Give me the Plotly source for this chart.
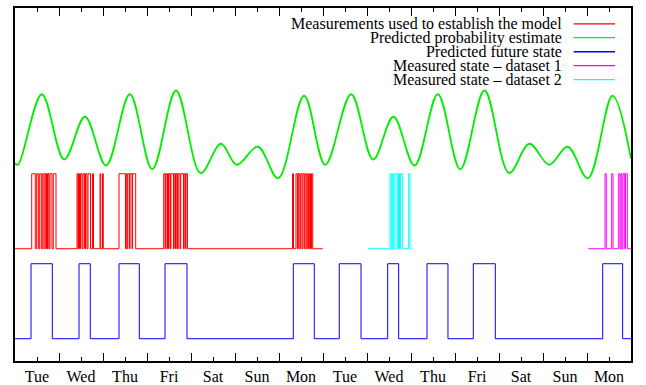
import plotly.graph_objects as go

# ---------------- data ----------------
day_labels = ["Tue", "Wed", "Thu", "Fri", "Sat", "Sun", "Mon",
              "Tue", "Wed", "Thu", "Fri", "Sat", "Sun", "Mon"]

# predicted probability estimate (extrema), x in days from Tue 00:00
prob_x = [0.0, 0.07, 0.61, 1.12, 1.59, 2.07, 2.61, 3.12, 3.66, 4.22, 4.68, 5.04, 5.52, 5.98,
          6.57, 7.05, 7.64, 8.14, 8.60, 9.08, 9.61, 10.12, 10.67, 11.23, 11.69, 12.14, 12.56,
          13.02, 13.58, 14.0]
prob_y = [2.34, 2.32, 3.26, 2.39, 2.96, 2.31, 3.26, 2.26, 3.31, 2.21, 2.60, 2.32, 2.56, 2.14,
          3.24, 2.32, 3.26, 2.39, 2.96, 2.31, 3.26, 2.26, 3.31, 2.21, 2.60, 2.32, 2.56,
          2.14, 3.24, 2.40]

# predicted future state (on intervals)
pred_span = [0.0, 14.0]
pred_on = [(0.364, 0.848), (1.455, 1.711), (2.364, 2.825), (3.409, 3.909), (6.325, 6.802),
           (7.370, 7.864), (8.470, 8.720), (9.364, 9.840), (10.416, 10.916), (13.357, 13.810)]

# measurements used to establish the model (on intervals)
model_span = [0.0, 6.993]
model_on = [(0.380, 0.461), (0.493, 0.530), (0.561, 0.598), (0.630, 0.659), (0.682, 0.705),
            (0.716, 0.739), (0.750, 0.773), (0.795, 0.841), (0.870, 0.932),
            (1.409, 1.432), (1.443, 1.466), (1.489, 1.523), (1.545, 1.580), (1.602, 1.636),
            (1.659, 1.716), (1.761, 1.784), (1.932, 1.948), (1.989, 2.007),
            (2.364, 2.511), (2.527, 2.550), (2.564, 2.602), (2.614, 2.659), (2.670, 2.743),
            (3.380, 3.409), (3.425, 3.455), (3.466, 3.489), (3.500, 3.530), (3.545, 3.602),
            (3.618, 3.648), (3.664, 3.693), (3.709, 3.750), (3.766, 3.830), (3.845, 3.875),
            (3.886, 3.920),
            (6.307, 6.330), (6.386, 6.420), (6.439, 6.473), (6.493, 6.523), (6.545, 6.575),
            (6.591, 6.620), (6.643, 6.670), (6.689, 6.716), (6.739, 6.766)]

# measured state - dataset 2
ds2_span = [8.016, 9.0]
ds2_on = [(8.523, 8.552), (8.584, 8.609), (8.636, 8.689), (8.716, 8.739), (8.761, 8.811),
          (8.948, 8.977)]

# measured state - dataset 1
ds1_span = [13.030, 14.0]
ds1_on = [(13.409, 13.439), (13.561, 13.591), (13.720, 13.750), (13.773, 13.795),
          (13.818, 13.857), (13.875, 13.916)]

series_names = ["Measurements used to establish the model", "Predicted probability estimate",
                "Predicted future state", "Measured state \u2013 dataset 1",
                "Measured state \u2013 dataset 2"]


def steps(span, on, offset):
    xs, ys = [span[0]], [offset]
    for a, b in on:
        xs += [a, b]
        ys += [offset + 1, offset]
    xs.append(span[1])
    ys.append(offset)
    return xs, ys


MEAS_OFFSET = 1.2
FONT = "Liberation Serif, Times New Roman, serif"

fig = go.Figure()
mx, my = steps(model_span, model_on, MEAS_OFFSET)
fig.add_trace(go.Scatter(x=mx, y=my, mode="lines", line=dict(color="#ff0000", width=1, shape="hv"),
                         name=series_names[0], showlegend=False))
fig.add_trace(go.Scatter(x=prob_x, y=prob_y, mode="lines",
                         line=dict(color="#00ee00", width=1.8, shape="spline", smoothing=1.0),
                         name=series_names[1], showlegend=False))
px_, py_ = steps(pred_span, pred_on, 0.0)
fig.add_trace(go.Scatter(x=px_, y=py_, mode="lines", line=dict(color="#0000ff", width=1, shape="hv"),
                         name=series_names[2], showlegend=False))
d1x, d1y = steps(ds1_span, ds1_on, MEAS_OFFSET)
fig.add_trace(go.Scatter(x=d1x, y=d1y, mode="lines", line=dict(color="#ff00ff", width=1, shape="hv"),
                         name=series_names[3], showlegend=False))
d2x, d2y = steps(ds2_span, ds2_on, MEAS_OFFSET)
fig.add_trace(go.Scatter(x=d2x, y=d2y, mode="lines", line=dict(color="#00ffff", width=1, shape="hv"),
                         name=series_names[4], showlegend=False))

# gnuplot-style key: right-aligned text with line sample to the right
key_colors = ["#ff0000", "#00ee00", "#0000ff", "#ff00ff", "#00ffff"]
row_y = [0.955, 0.916, 0.876, 0.837, 0.797]
for name, col, yy in zip(series_names, key_colors, row_y):
    fig.add_annotation(xref="paper", yref="paper", x=0.892, y=yy, text=name, showarrow=False,
                       xanchor="right", yanchor="middle",
                       font=dict(family=FONT, size=16, color="black"))
    fig.add_shape(type="line", xref="paper", yref="paper", x0=0.907, x1=0.974, y0=yy, y1=yy,
                  line=dict(color=col, width=1.3))

fig.update_xaxes(range=[0, 14], tickmode="array", tickvals=[0.5 + i for i in range(14)],
                 ticktext=day_labels, ticks="inside", ticklen=4, tickwidth=1, tickcolor="black",
                 showline=True, linewidth=1.5, linecolor="black", mirror="ticks",
                 showgrid=False, zeroline=False, automargin=False,
                 tickfont=dict(family=FONT, size=16, color="black"),
                 minor=dict(tick0=0, dtick=1, ticks="inside", ticklen=8, tickwidth=1,
                            tickcolor="black", showgrid=False))
fig.update_yaxes(range=[-0.297, 4.41], showticklabels=False, ticks="", showline=True, linewidth=1.5,
                 linecolor="black", mirror=True, showgrid=False, zeroline=False, automargin=False)

fig.update_layout(width=646, height=385, margin=dict(l=15, r=15, t=8, b=24),
                  paper_bgcolor="white", plot_bgcolor="white", showlegend=False)

fig.write_html("out.html")
